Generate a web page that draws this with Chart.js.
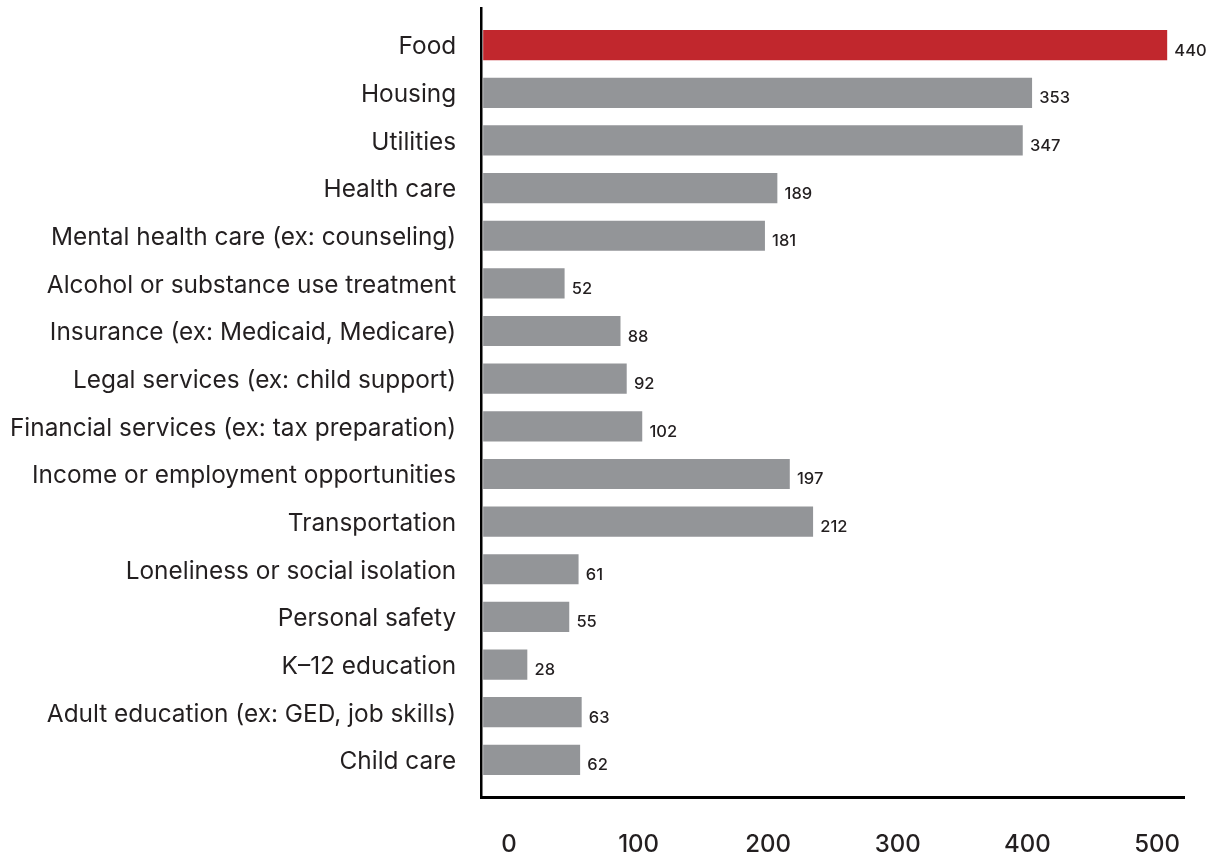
<!DOCTYPE html>
<html>
<head>
<meta charset="utf-8">
<script src="https://cdn.jsdelivr.net/npm/chart.js@4/dist/chart.umd.min.js"></script>
<style>
  html, body { margin: 0; padding: 0; background: #ffffff; }
  #wrap { width: 1226px; height: 856px; }
</style>
</head>
<body>
<div id="wrap"><canvas id="chart" width="1226" height="856"></canvas></div>
<script>
// Needs reported, in display order (top to bottom)
const categories = [
  'Food',
  'Housing',
  'Utilities',
  'Health care',
  'Mental health care (ex: counseling)',
  'Alcohol or substance use treatment',
  'Insurance (ex: Medicaid, Medicare)',
  'Legal services (ex: child support)',
  'Financial services (ex: tax preparation)',
  'Income or employment opportunities',
  'Transportation',
  'Loneliness or social isolation',
  'Personal safety',
  'K\u201312 education',
  'Adult education (ex: GED, job skills)',
  'Child care'
];
const counts = [440, 353, 347, 189, 181, 52, 88, 92, 102, 197, 212, 61, 55, 28, 63, 62];
const highlighted = ['Food'];
const axisTicks = [0, 100, 200, 300, 400, 500];

const RED = '#c1272d';
const GRAY = '#939598';
const INK = '#231f20';
const FONT = 'Inter, "Noto Sans", "DejaVu Sans", sans-serif';

// Writes each bar's count just past its end
const valueLabels = {
  id: 'valueLabels',
  afterDatasetsDraw(chart) {
    const ctx = chart.ctx;
    const meta = chart.getDatasetMeta(0);
    ctx.save();
    ctx.font = '500 16.5px ' + FONT;
    ctx.fillStyle = INK;
    ctx.textAlign = 'left';
    ctx.textBaseline = 'alphabetic';
    meta.data.forEach((bar, i) => {
      ctx.fillText(String(counts[i]), bar.x + 7.5, bar.y + 10.5);
    });
    ctx.restore();
  }
};

new Chart(document.getElementById('chart'), {
  type: 'bar',
  data: {
    datasets: [{
      data: categories.map((c, i) => ({ x: counts[i], y: i })),
      backgroundColor: categories.map(c => highlighted.includes(c) ? RED : GRAY),
      barThickness: 29.5,
      xAxisID: 'x',
      yAxisID: 'y'
    }]
  },
  options: {
    indexAxis: 'y',
    responsive: false,
    animation: false,
    layout: { padding: { top: 8, right: 42, bottom: 0, left: 0 } },
    plugins: {
      legend: { display: false },
      tooltip: { enabled: false }
    },
    scales: {
      y: {
        type: 'linear',
        axis: 'y',
        position: 'left',
        reverse: true,
        offset: false,
        min: -0.78,
        max: 15.78,
        bounds: 'data',
        afterBuildTicks: s => { s.ticks = categories.map((c, i) => ({ value: i })); },
        afterFit: s => { s.width = 481.7; s.paddingTop = 0; s.paddingBottom = 0; },
        grid: { display: false, drawTicks: false, offset: false },
        border: { display: true, color: '#000000', width: 2.5 },
        ticks: {
          autoSkip: false,
          padding: 25.5,
          labelOffset: 2,
          color: INK,
          font: { family: FONT, size: 24.4 },
          callback: v => (categories[v] !== undefined ? categories[v] : '')
        }
      },
      x: {
        type: 'linear',
        axis: 'x',
        position: 'bottom',
        display: false,
        offset: false,
        min: -1.16,
        max: 451.04
      },
      x2: {
        type: 'linear',
        axis: 'x',
        position: 'bottom',
        offset: false,
        min: -21.07,
        max: 520.8,
        bounds: 'data',
        afterBuildTicks: s => { s.ticks = axisTicks.map(v => ({ value: v })); },
        afterFit: s => { s.height = 59; s.paddingLeft = 0; s.paddingRight = 0; },
        grid: { display: false, drawTicks: false },
        border: { display: true, color: '#000000', width: 3 },
        ticks: {
          autoSkip: false,
          maxRotation: 0,
          padding: 33,
          color: INK,
          font: { family: FONT, size: 24, weight: '500' },
          callback: v => String(v)
        }
      }
    }
  },
  plugins: [valueLabels]
});
</script>
</body>
</html>
